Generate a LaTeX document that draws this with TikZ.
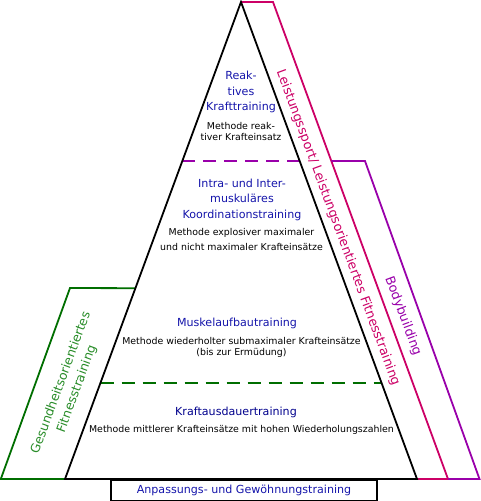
\documentclass[tikz,border=0pt]{standalone}
\usepackage{fontspec}
\setmainfont{DejaVu Sans}
\usepackage{tikz}
\usetikzlibrary{calc}
\definecolor{levelBlue}{RGB}{20,20,170}
\definecolor{deepBlue}{RGB}{0,0,140}
\definecolor{sportMagenta}{RGB}{204,0,102}
\definecolor{bodyPurple}{RGB}{153,0,170}
\definecolor{healthGreen}{RGB}{0,110,0}
\definecolor{healthText}{RGB}{40,140,40}

\begin{document}
\begin{tikzpicture}[x=1pt, y=-1pt,
  edge/.style={line width=1.8pt},
  split/.style={line width=2pt, dash pattern=on 13pt off 8pt},
  title/.style={text=levelBlue, font=\fontsize{11.1}{15.5}\selectfont, align=center, inner sep=0pt},
  method/.style={font=\fontsize{9.4}{11}\selectfont, align=center, inner sep=0pt},
  band/.style={font=\fontsize{12.8}{17}\selectfont, align=center, inner sep=0pt}]
  \useasboundingbox (0,0) rectangle (481,501);
  % pyramid corners
  \coordinate (apex) at (241,2);
  \coordinate (bl) at (65,479);
  \coordinate (br) at (417,479);
  % side bands
  \coordinate (mtop) at (273,2);
  \coordinate (mbot) at (448,479);
  \coordinate (mmid) at ($(mtop)!1/3!(mbot)$);
  \coordinate (ptop) at (365,161);
  \coordinate (pbot) at (479.5,479);
  \coordinate (gin) at ($(apex)!0.6!(bl)$);
  \coordinate (gtop) at (70,288);
  \coordinate (gbot) at (0.8,479);
  % level borders
  \coordinate (l1) at ($(apex)!1/3!(bl)$);
  \coordinate (r1) at ($(apex)!1/3!(br)$);
  \coordinate (l3) at ($(apex)!0.7977!(bl)$);
  \coordinate (r3) at ($(apex)!0.7977!(br)$);

  \draw[edge, healthGreen] (gin) -- (gtop) -- (gbot) -- (bl);
  \draw[edge, sportMagenta] (apex) -- (mtop) -- (mbot) -- (br);
  \draw[edge, bodyPurple] (mmid) -- (ptop) -- (pbot) -- (mbot);
  \draw[split, draw=bodyPurple] (l1) -- (r1);
  \draw[split, draw=healthGreen] (l3) -- (r3);
  \draw[edge] (apex) -- (bl) -- (br) -- cycle;

  \node[title] (reaktiv) at (241,92) {Reak-\\tives\\Krafttraining};
  \node[method] (reaktivM) at (241,131.5) {Methode reak-\\tiver Krafteinsatz};
  \node[title] (koord) at (242,199.5) {Intra- und Inter-\\muskuläres\\Koordinationstraining};
  \node[method, font=\fontsize{9.4}{15}\selectfont] (koordM) at (241.5,239.5) {Methode explosiver maximaler\\und nicht maximaler Krafteinsätze};
  \node[title] (muskel) at (237,323) {Muskelaufbautraining};
  \node[method] (muskelM) at (241.5,347.5) {Methode wiederholter submaximaler Krafteinsätze\\(bis zur Ermüdung)};
  \node[title, text=deepBlue] (ausdauer) at (236,412) {Kraftausdauertraining};
  \node[method] (ausdauerM) at (241.5,430) {Methode mittlerer Krafteinsätze mit hohen Wiederholungszahlen};

  \node[title, draw=black, line width=1.8pt, minimum width=266pt, minimum height=21pt, anchor=north] (basis) at (244,479) {Anpassungs- und Gewöhnungstraining};

  \node[band, text=sportMagenta, rotate=-69.75] (leistung) at (338,228) {Leistungssport/ Leistungsorientiertes Fitnesstraining};
  \node[band, text=bodyPurple, rotate=-69.75] (body) at (403,316) {Bodybuilding};
  \node[band, text=healthText, font=\fontsize{12.5}{17}\selectfont, rotate=69.75] (gesund) at (69,386) {Gesundheitsorientiertes\\Fitnesstraining};
\end{tikzpicture}
\end{document}
